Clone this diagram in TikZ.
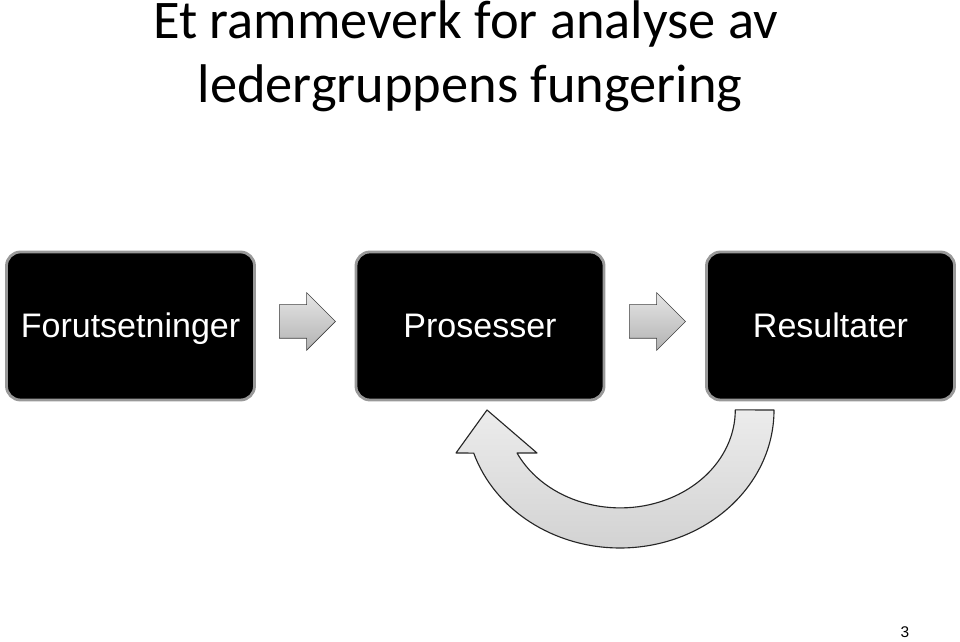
\documentclass[tikz,border=0pt]{standalone}
\usepackage{fontspec}
\setmainfont{Carlito}
\newfontfamily\arialfont{Liberation Sans}
\usetikzlibrary{shapes.arrows}

\begin{document}
\begin{tikzpicture}[x=0.025cm, y=0.025cm,
		box/.style={draw=gray!80, line width=2pt, fill=black, text=white, shape=rectangle, rounded corners=0.35cm, minimum width=6.2cm, minimum height=3.7cm, font=\arialfont\fontsize{24.2}{28}\selectfont, text height=17pt, text depth=0pt},
		blockarrow/.style={draw=black!75, thin, top color=gray!20, bottom color=gray!60, shape=single arrow, single arrow head extend=0.3cm, minimum height=1.4cm, minimum width=1.425cm, inner xsep=0pt, inner ysep=0.4125cm},
		title/.style={anchor=base, font=\fontsize{38.7}{44}\selectfont}]
	\useasboundingbox (0,0) rectangle (960,642);

	\node[title] (t_1) at (465.5,603) {Et rammeverk for analyse av};
	\node[title] (t_2) at (470,539) {ledergruppens fungering};

	\node[box] (b_1) at (130.5,316) {Forutsetninger};
	\node[box] (b_2) at (480,316) {Prosesser};
	\node[box] (b_3) at (830.5,316) {Resultater};

	\node[blockarrow] (a_1) at (299,320.5) {};
	\node[blockarrow] (a_2) at (649,320.5) {};

	\coordinate (loop) at (620,232);
	\draw[draw=black!85, line width=0.8pt, top color=gray!15, bottom color=gray!35, line join=round]
		(loop) ++(154,0) arc[start angle=0, end angle=-161.8, x radius=154, y radius=138]
		-- (456,189) -- (487,232) -- (537,189) -- (517,189)
		arc[start angle=-153.9, end angle=0, x radius=115, y radius=98] -- cycle;

	\node[anchor=base, font=\arialfont\fontsize{11}{13}\selectfont] (pg) at (905,4) {3};
\end{tikzpicture}
\end{document}
